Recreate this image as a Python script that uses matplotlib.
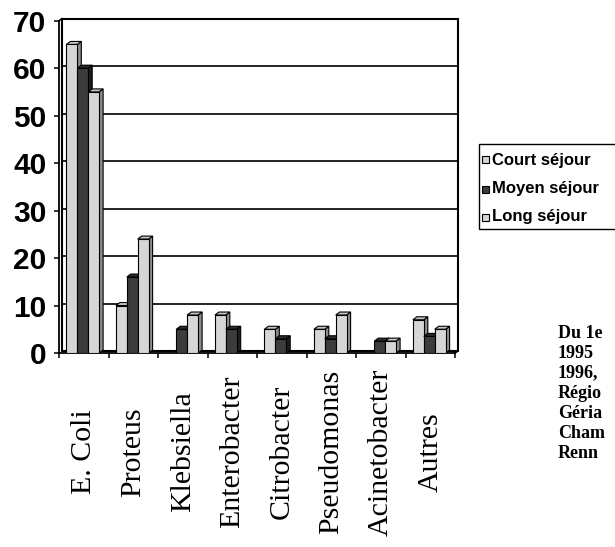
"""
Germes isolés selon le type de séjour: histogramme 3D façon Excel.
"""

import numpy as np
import matplotlib
matplotlib.use("Agg")
import matplotlib.pyplot as plt
import matplotlib.transforms as mtransforms
from matplotlib.patches import Polygon, Rectangle

# --- data -------------------------------------------------------------
categories = ["E. Coli", "Proteus", "Klebsiella", "Enterobacter",
              "Citrobacter", "Pseudomonas", "Acinetobacter", "Autres"]
court = [65, 10, 0, 8, 5, 5, 0, 7]
moyen = [60, 16, 5, 5, 3, 3, 2.5, 3.5]
long_sejour = [55, 24, 8, 0, 0, 8, 2.5, 5]
series_names = ["Court séjour", "Moyen séjour", "Long séjour"]
y_ticks = [0, 10, 20, 30, 40, 50, 60, 70]
# the note is cut by the right edge of the original picture
note_lines = ["Du 1e", "1995", "1996,", "Régio", "Géria", "Cham", "Renn"]

# face / side / top colours per series
face_cols = ["#d6d6d6", "#3c3c3c", "#d6d6d6"]
side_cols = ["#8c8c8c", "#1e1e1e", "#8c8c8c"]
top_cols = ["#c4c4c4", "#2c2c2c", "#c4c4c4"]

W, H = 615, 547
fig = plt.figure(figsize=(W / 100, H / 100), dpi=100)
ax = fig.add_axes([59 / W, 1 - 353 / H, 396 / W, 332.3 / H])
ax.set_xlim(0, len(categories))
ax.set_ylim(0, 70)
ax.patch.set_visible(False)

for s in ["top", "right"]:
    ax.spines[s].set_visible(False)
for s in ["left", "bottom"]:
    ax.spines[s].set_linewidth(1.3)
    ax.spines[s].set_zorder(2)

# depth of the 3D wall (pixels -> axes fraction / data units)
ax_w, ax_h = ax.bbox.width, ax.bbox.height
wall_dx, wall_dy = 3 / ax_w, 2 / ax_h
off = mtransforms.ScaledTranslation(0.03, 0.02, fig.dpi_scale_trans)

# back wall and gridlines
ax.add_patch(Rectangle((0, 0), 1, 1, transform=ax.transAxes + off,
                       fill=False, ec="black", lw=1.5, clip_on=False, zorder=1))
gtrans = mtransforms.blended_transform_factory(ax.transAxes, ax.transData) + off
for v in y_ticks[1:]:
    ax.plot([0, 1], [v, v], transform=gtrans, color="black", lw=1.2,
            clip_on=False, zorder=1)
ax.plot([0, wall_dx], [1, 1 + wall_dy], transform=ax.transAxes,
        color="black", lw=1.2, clip_on=False)
ax.plot([1, 1 + wall_dx], [0, wall_dy], transform=ax.transAxes,
        color="black", lw=1.2, clip_on=False)

# 3D bars
ux = len(categories) / ax_w
uy = 70 / ax_h
bdx, bdy = 4 * ux, 3 * uy
bw = 0.22
for j, vals in enumerate([court, moyen, long_sejour]):
    for i, h in enumerate(vals):
        if h <= 0:
            continue
        x0 = i + 0.48 + (j - 1) * bw - bw / 2
        z = 3 + j * 0.1
        ax.add_patch(Polygon([(x0 + bw, 0), (x0 + bw + bdx, bdy),
                              (x0 + bw + bdx, h + bdy), (x0 + bw, h)],
                             fc=side_cols[j], ec="black", lw=0.8, zorder=z))
        ax.add_patch(Polygon([(x0, h), (x0 + bdx, h + bdy),
                              (x0 + bw + bdx, h + bdy), (x0 + bw, h)],
                             fc=top_cols[j], ec="black", lw=0.8, zorder=z))
        ax.add_patch(Rectangle((x0, 0), bw, h, fc=face_cols[j], ec="black",
                               lw=0.8, zorder=z + 0.01))

# ticks
ax.set_yticks(y_ticks)
ax.set_yticklabels([str(v) for v in y_ticks], fontsize=21.5,
                   fontweight="bold", family="Liberation Sans")
ax.tick_params(axis="y", length=3.6, width=1.1, pad=5.5, color="black")
ax.set_xticks(np.arange(0, len(categories) + 1))
ax.set_xticklabels([])
ax.tick_params(axis="x", length=3.6, width=1.1, color="black")

# category labels, rotated and centred in the band under the chart
ltrans = mtransforms.blended_transform_factory(ax.transData, fig.transFigure)
for i, name in enumerate(categories):
    ax.text(i + 0.5, 1 - 452 / H, name, rotation=90, ha="center", va="center",
            fontsize=21.5, family="Liberation Serif", transform=ltrans)

# legend (box runs past the right edge like the original)
fig.add_artist(Rectangle((479 / W, 1 - 229 / H), 170 / W, 85 / H,
                         transform=fig.transFigure, fc="white", ec="black",
                         lw=1.0))
row_y = [160, 189, 217]
for j, name in enumerate(series_names):
    yc = 1 - row_y[j] / H
    fig.add_artist(Rectangle((482 / W, yc - 3.5 / H), 7 / W, 7 / H,
                             transform=fig.transFigure, fc=face_cols[j],
                             ec="black", lw=0.8))
    fig.text(492 / W, yc, name, fontsize=12, fontweight="bold",
             family="Liberation Sans", va="center", ha="left")

# note on the right
for k, line in enumerate(note_lines):
    fig.text(558 / W, 1 - (333 + 20 * k) / H, line, fontsize=13,
             fontweight="bold", family="Liberation Serif",
             va="center", ha="left")

fig.savefig("out.png", dpi=100)
